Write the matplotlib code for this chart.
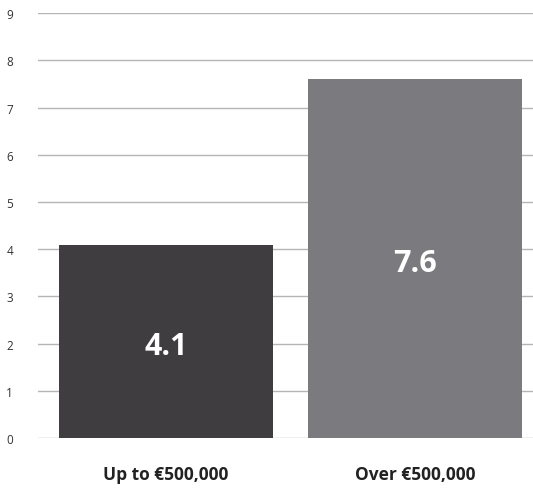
import matplotlib
matplotlib.use("Agg")
import matplotlib.pyplot as plt

# data
categories = ["Up to €500,000", "Over €500,000"]
values = [4.1, 7.6]
labels = ["4.1", "7.6"]
colors = ["#3f3d40", "#7b7a7e"]
y_ticks = list(range(0, 10))

plt.rcParams['font.family'] = ['Open Sans', 'DejaVu Sans']

fig = plt.figure(figsize=(5.33, 4.89), dpi=100)
ax = fig.add_axes([0.0713, 0.102, 0.9287, 0.869])

x = range(len(categories))
ax.bar(x, values, width=0.86, color=colors, zorder=2)

# value labels inside bars
for i, (v, lab) in enumerate(zip(values, labels)):
    ax.text(i, v / 2 - 0.1, lab, ha='center', va='center',
            color='white', fontsize=22, fontweight='bold', zorder=3)

ax.set_xlim(-0.514, 1.474)
ax.set_ylim(0, 9)
ax.set_yticks(y_ticks)
ax.set_yticklabels([str(t) for t in y_ticks], fontsize=8.5, color='#333333')
ax.set_xticks(list(x))
ax.set_xticklabels(categories, fontsize=12.5, fontweight='bold', color='#222222')

ax.grid(axis='y', color='#b5b5b5', linewidth=1, zorder=0)
ax.tick_params(axis='y', length=0, pad=18)
ax.tick_params(axis='x', length=0, pad=19)
for s in ax.spines.values():
    s.set_visible(False)

plt.savefig("out.png", dpi=100)
